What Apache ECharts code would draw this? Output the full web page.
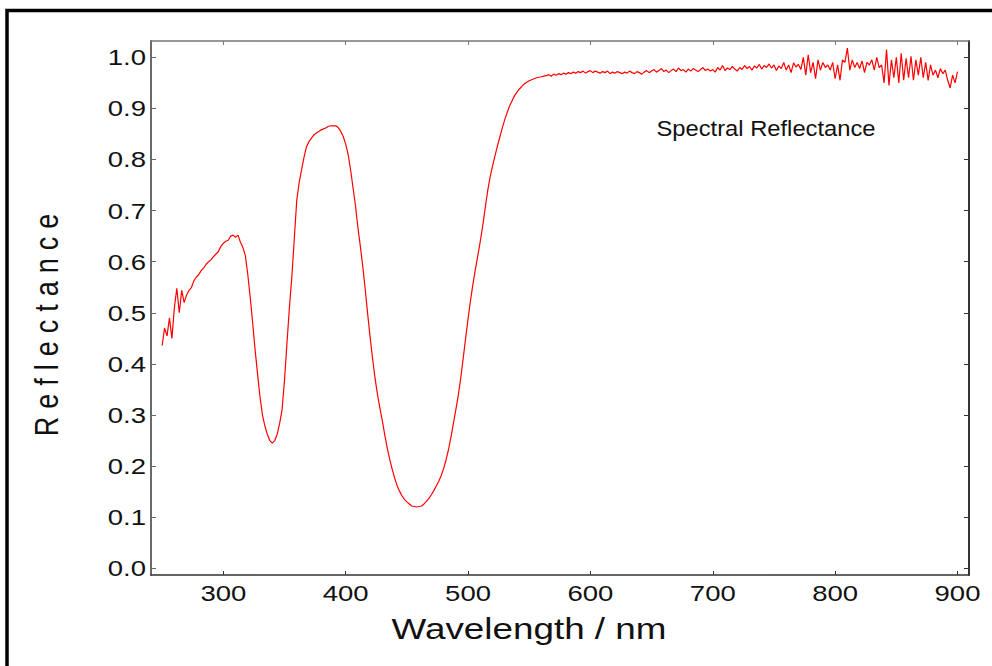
<!DOCTYPE html>
<html>
<head>
<meta charset="utf-8">
<script src="https://cdn.jsdelivr.net/npm/echarts@6/dist/echarts.min.js"></script>
<style>
html,body{margin:0;padding:0;background:#fff;}
#chart{width:992px;height:666px;}
</style>
</head>
<body>
<div id="chart"></div>
<script>
// Sampling start and step of the spectrum (nm)
const startWavelength = 250;
const stepWavelength = 2;

// Reflectance, 250..900 nm every 2 nm
const reflectance = [
0.436,0.47,0.455,0.49,0.45,0.51,0.548,0.50,0.544,0.52,
0.535,0.544,0.55,0.563,0.57,0.575,0.583,0.588,0.595,0.60,
0.604,0.61,0.615,0.62,0.63,0.636,0.64,0.642,0.65,0.652,
0.648,0.652,0.638,0.628,0.612,0.575,0.53,0.48,0.427,0.38,
0.335,0.30,0.278,0.262,0.25,0.245,0.25,0.262,0.283,0.31,
0.368,0.44,0.51,0.57,0.645,0.72,0.755,0.78,0.805,0.825,
0.835,0.842,0.848,0.852,0.855,0.858,0.86,0.862,0.865,0.866,
0.866,0.866,0.862,0.855,0.845,0.83,0.81,0.78,0.745,0.71,
0.667,0.63,0.59,0.545,0.497,0.452,0.41,0.372,0.34,0.313,
0.288,0.26,0.235,0.213,0.194,0.177,0.162,0.151,0.142,0.135,
0.13,0.126,0.122,0.121,0.12,0.121,0.122,0.126,0.131,0.137,
0.144,0.152,0.161,0.17,0.181,0.195,0.212,0.232,0.256,0.283,
0.31,0.338,0.372,0.41,0.45,0.488,0.524,0.556,0.585,0.612,
0.64,0.67,0.705,0.738,0.765,0.787,0.807,0.826,0.844,0.862,
0.878,0.892,0.905,0.915,0.925,0.932,0.938,0.943,0.948,0.951,
0.954,0.956,0.958,0.96,0.961,0.962,0.963,0.964,0.966,0.963,
0.967,0.965,0.968,0.966,0.969,0.967,0.97,0.968,0.971,0.969,
0.972,0.97,0.973,0.969,0.972,0.974,0.97,0.973,0.971,0.969,
0.972,0.97,0.973,0.968,0.971,0.969,0.972,0.97,0.968,0.971,
0.969,0.973,0.97,0.968,0.972,0.97,0.967,0.971,0.974,0.97,
0.973,0.976,0.971,0.974,0.978,0.972,0.975,0.97,0.974,0.977,
0.972,0.979,0.974,0.976,0.971,0.977,0.973,0.978,0.975,0.972,
0.976,0.98,0.974,0.977,0.973,0.976,0.971,0.98,0.975,0.984,
0.974,0.979,0.976,0.982,0.977,0.973,0.98,0.976,0.984,0.978,
0.982,0.975,0.983,0.979,0.986,0.977,0.984,0.98,0.987,0.979,
0.985,0.974,0.983,0.978,0.99,0.975,0.985,0.97,0.989,0.981,
0.986,0.976,1.0,0.965,1.005,0.97,0.99,0.958,0.995,0.975,
0.99,0.98,0.985,0.975,0.99,0.958,0.985,0.955,0.995,0.99,
1.018,0.975,0.995,0.98,0.99,0.978,0.993,0.97,0.99,0.985,
0.995,0.975,1.0,0.98,0.985,0.95,1.015,0.945,0.995,0.96,
1.0,0.95,1.008,0.955,0.998,0.96,1.002,0.955,0.995,0.965,
1.0,0.96,0.99,0.955,0.985,0.965,0.975,0.96,0.978,0.968,
0.975,0.955,0.94,0.965,0.95,
0.972
];

const xTicks = [300, 400, 500, 600, 700, 800, 900];
const yTicks = [0, 0.1, 0.2, 0.3, 0.4, 0.5, 0.6, 0.7, 0.8, 0.9, 1.0];
const xTitle = 'Wavelength / nm';
const yTitle = 'Reflectance';
const annotation = 'Spectral Reflectance';

const seriesData = reflectance.map((r, i) => [startWavelength + i * stepWavelength, r]);

const FONT = "'Liberation Sans', Arial, sans-serif";
const xMin = 240.9, xMax = 909.4, yMin = -0.0131, yMax = 1.0319;

const chart = echarts.init(document.getElementById('chart'), null, {renderer: 'svg'});

function xAxisDef(pos, labels, color) {
  return {
    type: 'value', position: pos, min: xMin, max: xMax,
    axisLine: {show: true, onZero: false, lineStyle: {color: color, width: 1.5}},
    axisTick: {show: true, inside: true, length: 4, customValues: xTicks, lineStyle: {color: color, width: 1}},
    axisLabel: {show: labels, customValues: xTicks, margin: 7, fontSize: 22, fontFamily: FONT, color: '#111'},
    splitLine: {show: false}
  };
}
function yAxisDef(pos, labels, color) {
  return {
    type: 'value', position: pos, min: yMin, max: yMax,
    axisLine: {show: true, onZero: false, lineStyle: {color: color, width: 2}},
    axisTick: {show: true, inside: true, length: 5, customValues: yTicks, lineStyle: {color: color, width: 1}},
    axisLabel: {show: labels, customValues: yTicks, margin: 5, fontSize: 22, fontFamily: FONT, color: '#111',
      formatter: v => Number(v).toFixed(1)},
    splitLine: {show: false}
  };
}

chart.setOption({
  animation: false,
  backgroundColor: '#ffffff',
  grid: {left: 151, right: 23, top: 41, bottom: 91, containLabel: false},
  xAxis: [xAxisDef('bottom', true, '#333'), xAxisDef('top', false, '#777')],
  yAxis: [yAxisDef('left', true, '#6a6a6a'), yAxisDef('right', false, '#333')],
  series: [{
    type: 'line', data: seriesData, showSymbol: false, symbol: 'none',
    lineStyle: {color: '#ff0000', width: 1.2}, silent: true
  }],
  graphic: [
    {type: 'rect', shape: {x: 7, y: 10.5, width: 1100, height: 800}, silent: true,
     style: {fill: 'none', stroke: '#000', lineWidth: 3.5}},
    {type: 'text', x: 529, y: 629, scaleX: 1.27, silent: true,
     style: {text: xTitle, font: "29px " + FONT, fill: '#111', align: 'center', verticalAlign: 'middle'}},
    {type: 'text', x: 46, y: 321, rotation: Math.PI / 2, scaleY: 1.25, silent: true,
     style: {text: yTitle, font: "27px " + FONT, fill: '#111', align: 'center', verticalAlign: 'middle'}},
    {type: 'text', x: 766, y: 128, scaleX: 1.08, silent: true,
     style: {text: annotation, font: "22px " + FONT, fill: '#111', align: 'center', verticalAlign: 'middle'}}
  ]
});

function postProcess() {
  const texts = document.querySelectorAll('#chart svg text');
  texts.forEach(t => {
    if (t.getAttribute('data-pp')) return;
    const s = (t.textContent || '').trim();
    if (/^\d+(\.\d)?$/.test(s)) {
      const x = parseFloat(t.getAttribute('x') || 0), y = parseFloat(t.getAttribute('y') || 0);
      const tr = t.getAttribute('transform') || '';
      t.setAttribute('transform', tr + ' translate(' + x + ' ' + y + ') scale(1.25 1) translate(' + (-x) + ' ' + (-y) + ')');
    } else if (s === yTitle) {
      t.setAttribute('letter-spacing', '8');
    }
    t.setAttribute('data-pp', '1');
  });
}
postProcess();
chart.on('finished', postProcess);
setTimeout(postProcess, 0);
</script>
</body>
</html>
